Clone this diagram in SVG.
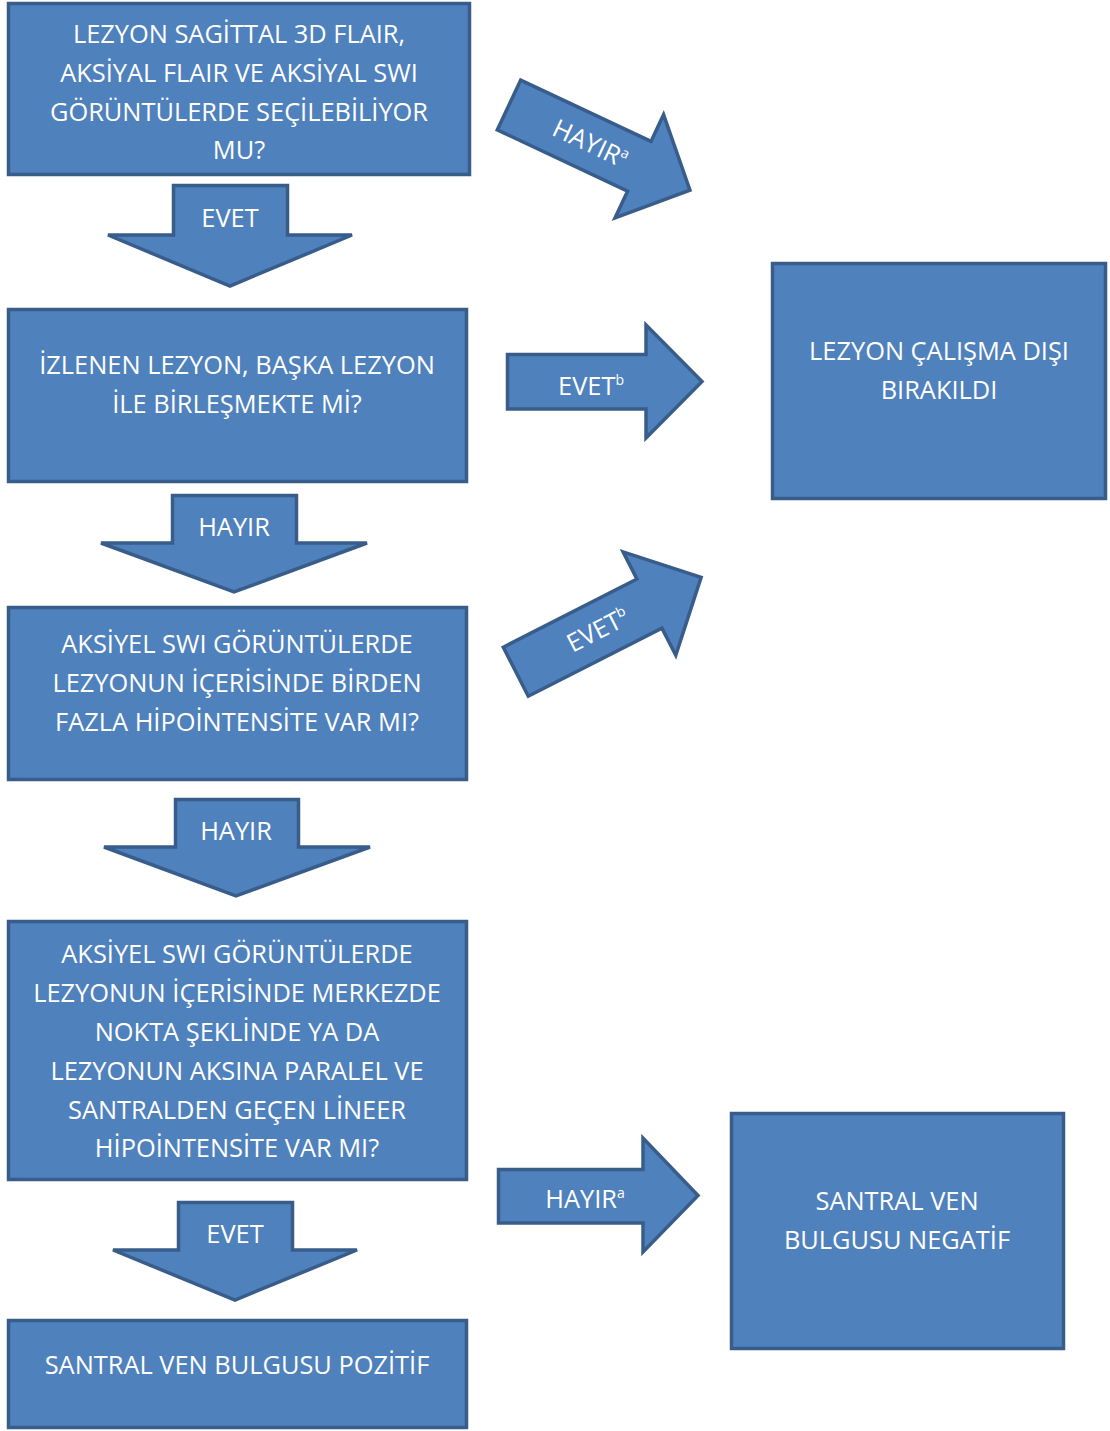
<svg xmlns="http://www.w3.org/2000/svg" width="1110" height="1431" viewBox="0 0 1110 1431">
<style>
.box{fill:#4F81BD;stroke:#385D8A;stroke-width:3.5}
.arr{fill:#4F81BD;stroke:#385D8A;stroke-width:3.5;stroke-linejoin:miter}
text{font-family:"Open Sans","Liberation Sans",sans-serif;font-size:25.4px;fill:#FFFFFF;text-anchor:middle}
.sup{font-size:14px}
</style>
<rect width="1110" height="1431" fill="#FFFFFF"/>
<g id="node1">
<rect class="box" x="8.5" y="3.5" width="461" height="171"/>
<text x="239" y="43">LEZYON SAGİTTAL 3D FLAIR,</text>
<text x="239" y="82">AKSİYAL FLAIR VE AKSİYAL SWI</text>
<text x="239" y="121">GÖRÜNTÜLERDE SEÇİLEBİLİYOR</text>
<text x="239" y="159">MU?</text>
</g>
<g id="node2">
<rect class="box" x="8.5" y="309.5" width="458" height="172"/>
<text x="237" y="374">İZLENEN LEZYON, BAŞKA LEZYON</text>
<text x="237" y="413">İLE BİRLEŞMEKTE Mİ?</text>
</g>
<g id="node3">
<rect class="box" x="8.5" y="607.5" width="458" height="172"/>
<text x="237" y="653">AKSİYEL SWI GÖRÜNTÜLERDE</text>
<text x="237" y="692">LEZYONUN İÇERİSİNDE BİRDEN</text>
<text x="237" y="731">FAZLA HİPOİNTENSİTE VAR MI?</text>
</g>
<g id="node4">
<rect class="box" x="8.5" y="921.5" width="458" height="258"/>
<text x="237" y="963">AKSİYEL SWI GÖRÜNTÜLERDE</text>
<text x="237" y="1002">LEZYONUN İÇERİSİNDE MERKEZDE</text>
<text x="237" y="1041">NOKTA ŞEKLİNDE YA DA</text>
<text x="237" y="1080">LEZYONUN AKSINA PARALEL VE</text>
<text x="237" y="1119">SANTRALDEN GEÇEN LİNEER</text>
<text x="237" y="1157">HİPOİNTENSİTE VAR MI?</text>
</g>
<g id="node5">
<rect class="box" x="8.5" y="1320.5" width="458" height="107"/>
<text x="237" y="1374">SANTRAL VEN BULGUSU POZİTİF</text>
</g>
<g id="node6">
<rect class="box" x="772.5" y="263.5" width="333" height="235"/>
<text x="939" y="360">LEZYON ÇALIŞMA DIŞI</text>
<text x="939" y="399">BIRAKILDI</text>
</g>
<g id="node7">
<rect class="box" x="731.5" y="1113.5" width="332" height="235"/>
<text x="897" y="1210">SANTRAL VEN</text>
<text x="897" y="1249">BULGUSU NEGATİF</text>
</g>
<g id="connectors">
<g id="c1">
<path class="arr" d="M173.5,185.5 H287.5 V235 H352 L230,286 L108,235 H173.5 Z"/>
<text x="230" y="227">EVET</text>
</g>
<g id="c2">
<path class="arr" d="M172.5,495.5 H296.5 V543 H367 L234,592 L101,543 H172.5 Z"/>
<text x="234" y="536">HAYIR</text>
</g>
<g id="c3">
<path class="arr" d="M175.5,799.5 H298.5 V847 H370 L236,896 L104,847 H175.5 Z"/>
<text x="236" y="840">HAYIR</text>
</g>
<g id="c4">
<path class="arr" d="M178.5,1202.5 H292.5 V1250 H357 L235,1300 L113,1250 H178.5 Z"/>
<text x="235" y="1243">EVET</text>
</g>
<g id="c5">
<path class="arr" d="M507.5,354.5 H646 V325 L702,381.5 L646,438 V409 H507.5 Z"/>
<text x="591" y="395">EVET<tspan class="sup" dy="-10">b</tspan></text>
</g>
<g id="c6">
<path class="arr" d="M498.5,1169.5 H643 V1138 L698,1195.5 L643,1252 V1223 H498.5 Z"/>
<text x="585" y="1208">HAYIR<tspan class="sup" dy="-10">a</tspan></text>
</g>
<g id="c7" transform="translate(509,105) rotate(25.2)">
<path class="arr" d="M0,-27.5 H144 V-57 L200,0 L144,57 V27.5 H0 Z"/>
<text x="90" y="9">HAYIR<tspan class="sup" dy="-10">a</tspan></text>
</g>
<g id="c8" transform="translate(515.8,671.7) rotate(-27)">
<path class="arr" d="M0,-27.5 H150 V-58 L208,0 L150,58 V27.5 H0 Z"/>
<text x="92" y="9">EVET<tspan class="sup" dy="-10">b</tspan></text>
</g>
</g>
</svg>
